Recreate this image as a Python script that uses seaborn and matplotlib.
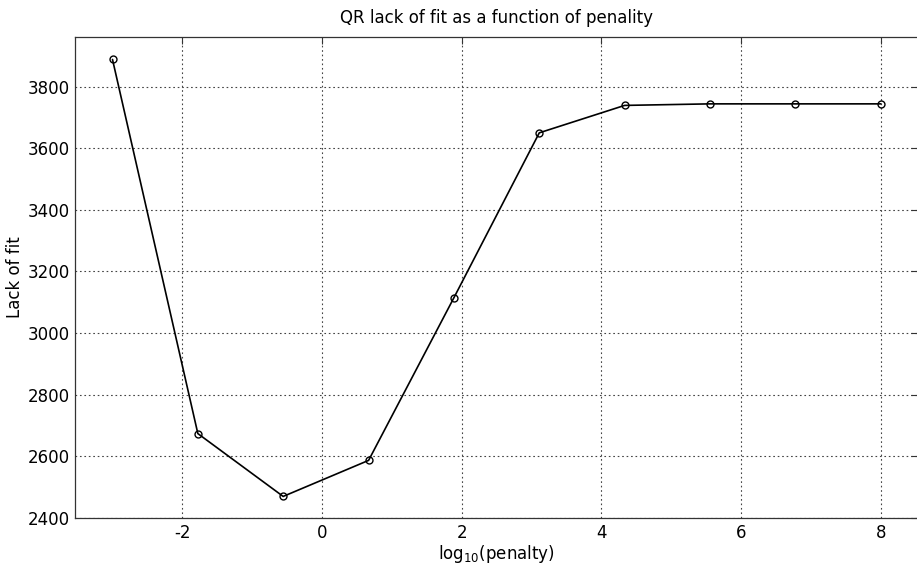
# QR lack of fit vs log10(penalty), MATLAB-style look
import numpy as np
import pandas as pd
import seaborn as sns
import matplotlib
matplotlib.use('Agg')
import matplotlib.pyplot as plt

# values
log_penalty = [-3.0, -1.778, -0.556, 0.667, 1.889, 3.111, 4.333, 5.556, 6.778, 8.0]
lack_of_fit = [3888, 2674, 2470, 2587, 3115, 3650, 3739, 3744, 3744, 3744]

df = pd.DataFrame({'log_penalty': log_penalty, 'lack_of_fit': lack_of_fit})

sns.set_style('white')
plt.rcParams['font.family'] = ['DejaVu Sans']
plt.rcParams['axes.unicode_minus'] = False
plt.rcParams['text.color'] = 'black'
plt.rcParams['axes.labelcolor'] = 'black'

fig = plt.figure(figsize=(9.17, 5.66), dpi=100)
ax = fig.add_axes([75 / 917, 1 - 518 / 566, 843 / 917, 481 / 566])

sns.lineplot(data=df, x='log_penalty', y='lack_of_fit', ax=ax, color='black',
             linewidth=1.2, marker='o', markersize=5, markerfacecolor='none',
             markeredgecolor='black', markeredgewidth=1.0)

ax.set_xlim(-3.537, 8.534)
ax.set_ylim(2400, 3961)
ax.set_xticks([-2, 0, 2, 4, 6, 8])
ax.set_yticks([2400, 2600, 2800, 3000, 3200, 3400, 3600, 3800])

ax.grid(True, linestyle=(0, (1.5, 2.5)), color='#444444', linewidth=0.8)
ax.tick_params(direction='in', length=5, width=0.8, colors='#333333',
               labelcolor='black', labelsize=12, top=True, right=True, pad=4)
for s in ax.spines.values():
    s.set_color('#333333')
    s.set_linewidth(0.9)

ax.set_title('QR lack of fit as a function of penality', fontsize=12, pad=10,
             color='black')
ax.set_xlabel('log$_{10}$(penalty)', fontsize=12, labelpad=1, color='black')
ax.set_ylabel('Lack of fit', fontsize=12, labelpad=2, color='black')

fig.savefig('out.png', dpi=100)
